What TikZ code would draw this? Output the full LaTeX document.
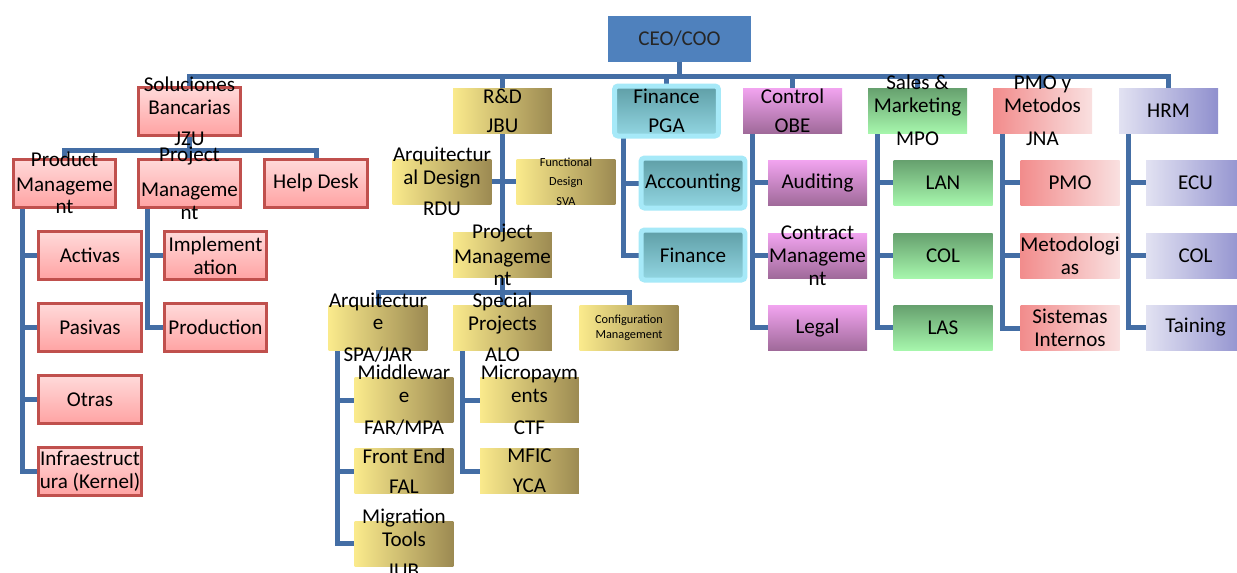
\documentclass[tikz,border=0pt]{standalone}
\usepackage{fontspec}
\setmainfont{Carlito}
\usepackage{tikz}
\usetikzlibrary{positioning,calc,backgrounds}

\definecolor{linkblue}{RGB}{68,110,165}
\definecolor{ceoblue}{HTML}{4F81BD}
\definecolor{redline}{HTML}{C0504D}
\definecolor{redtop}{HTML}{FFDADA}
\definecolor{redbot}{HTML}{FFA3A3}
\definecolor{goldl}{HTML}{FAEA8C}
\definecolor{goldm}{HTML}{E2CE7C}
\definecolor{goldr}{HTML}{9C8A52}
\definecolor{glow}{HTML}{A6E9F8}
\definecolor{cyantop}{HTML}{5F9EA6}
\definecolor{cyanbot}{HTML}{92D6E2}
\definecolor{pinktop}{HTML}{F2A4F0}
\definecolor{pinkbot}{HTML}{A06A9A}
\definecolor{greentop}{HTML}{66A06E}
\definecolor{greenbot}{HTML}{A6F6AC}
\definecolor{salml}{HTML}{F28C8C}
\definecolor{salmr}{HTML}{F9E0E0}
\definecolor{lavl}{HTML}{E2E2F2}
\definecolor{lavr}{HTML}{9090CE}

\tikzset{
    box/.style={minimum width=1.98cm, minimum height=0.9cm, inner sep=0pt, outer sep=0pt,
        font=\fontsize{12}{13}\selectfont, align=center},
    txt/.style={align=center, font=\fontsize{12}{13}\selectfont, text=black, inner sep=0pt},
    small/.style={align=center, font=\fontsize{7}{11}\selectfont, text=black, inner sep=0pt},
    ceobox/.style={box, fill=ceoblue, minimum width=2.86cm, minimum height=0.92cm, text=black!85},
    redbox/.style={box, draw=redline, line width=0.06cm, top color=redtop, bottom color=redbot,
        minimum width=2.06cm, minimum height=0.96cm},
    goldbox/.style={box, left color=goldl, middle color=goldm, right color=goldr},
    cyanbox/.style={box, draw=glow, line width=0.1cm, rounded corners=2pt,
        top color=cyantop, bottom color=cyanbot, minimum width=2.08cm, minimum height=1cm},
    pinkbox/.style={box, top color=pinktop, bottom color=pinkbot},
    greenbox/.style={box, top color=greentop, bottom color=greenbot},
    salmbox/.style={box, left color=salml, right color=salmr},
    lavbox/.style={box, left color=lavl, right color=lavr},
    link/.style={draw=linkblue, line width=0.1cm},
}

\begin{document}
\begin{tikzpicture}[x=0.02cm, y=-0.02cm]
    \useasboundingbox (0,0) rectangle (1237,572);

    % top level
    \node[ceobox] (ceo) at (679.5,39) {CEO/COO};
    \node[redbox, label={[txt]center:Soluciones\\Bancarias\\[4.5pt]JZU}] (sol) at (189.5,111) {};
    \node[goldbox, label={[txt]center:R\&D\\[3.4pt]JBU}] (rd) at (502.5,110.5) {};
    \node[cyanbox, label={[txt]center:Finance\\[3.4pt]PGA}] (fin) at (666.5,111) {};
    \node[pinkbox, label={[txt]center:Control\\[3.4pt]OBE}] (ctl) at (792.5,110.5) {};
    \node[greenbox, label={[txt]center:Sales \&\\Marketing\\[6pt]MPO}] (sal) at (917.5,110.5) {};
    \node[salmbox, label={[txt]center:PMO y\\Metodos\\[6pt]JNA}] (pmo) at (1042.5,110.5) {};
    \node[lavbox] (hrm) at (1168.5,110.5) {HRM};

    % Soluciones Bancarias
    \node[redbox, label={[txt]center:Product\\[1pt]Manageme\\nt}] (prod) at (64.5,183) {};
    \node[redbox, label={[txt]center:Project\\[7pt]Manageme\\nt}] (proj) at (189.5,183) {};
    \node[redbox] (help) at (316,183) {Help Desk};
    \node[redbox] (act) at (90,255.5) {Activas};
    \node[redbox] (pas) at (90,327.5) {Pasivas};
    \node[redbox] (otr) at (90,399.5) {Otras};
    \node[redbox] (inf) at (90,471.5) {Infraestruct\\ura (Kernel)};
    \node[redbox] (imp) at (215.5,255.5) {Implement\\ation};
    \node[redbox] (prd) at (215.5,327.5) {Production};

    % R&D
    \node[goldbox, label={[txt]center:Arquitectur\\al Design\\[4.5pt]RDU}] (arq) at (442,181.5) {};
    \node[goldbox, label={[small]center:Functional\\Design\\SVA}] (fun) at (566,181.5) {};
    \node[goldbox, label={[txt]center:Project\\[1pt]Manageme\\nt}] (rpm) at (502.5,255) {};
    \node[goldbox, label={[txt]center:Arquitectur\\e\\[5pt]SPA/JAR}] (arc) at (378,327.5) {};
    \node[goldbox, label={[txt]center:Special\\Projects\\[5pt]ALO}] (spe) at (502.5,327.5) {};
    \node[goldbox, label={[small, font=\fontsize{7}{8.5}\selectfont]center:Configuration\\Management}] (cfg) at (629,327.5) {};
    \node[goldbox, label={[txt]center:Middlewar\\e\\[5pt]FAR/MPA}] (mid) at (404,400) {};
    \node[goldbox, label={[txt]center:Front End\\[4pt]FAL}] (fro) at (404,471) {};
    \node[goldbox, label={[txt]center:Migration\\Tools\\[5pt]IUB}] (mig) at (404,543.5) {};
    \node[goldbox, label={[txt]center:Micropaym\\ents\\[5pt]CTF}] (mic) at (529.5,400) {};
    \node[goldbox, label={[txt]center:MFIC\\[4pt]YCA}] (mfi) at (529.5,471) {};

    % Finance, Control
    \node[cyanbox] (acc) at (693,183) {Accounting};
    \node[cyanbox] (fnc) at (693,255) {Finance};
    \node[pinkbox] (aud) at (817.5,182.5) {Auditing};
    \node[pinkbox, label={[txt]center:Contract\\Manageme\\nt}] (con) at (817.5,255.5) {};
    \node[pinkbox] (leg) at (817.5,327.5) {Legal};

    % Sales, PMO, HRM
    \node[greenbox] (lan) at (943,182.5) {LAN};
    \node[greenbox] (col) at (943,255.5) {COL};
    \node[greenbox] (las) at (943,327.5) {LAS};
    \node[salmbox] (pmc) at (1070,182.5) {PMO};
    \node[salmbox] (met) at (1070,255.5) {Metodologi\\as};
    \node[salmbox] (sis) at (1070,328) {Sistemas\\Internos};
    \node[lavbox] (ecu) at (1195.5,182.5) {ECU};
    \node[lavbox] (hcl) at (1195.5,255.5) {COL};
    \node[lavbox] (tai) at (1195.5,327.5) {Taining};

    \begin{scope}[on background layer]
        \fill[white] (0,0) rectangle (1237,572);
        \coordinate (top) at (679.5,76);
        \foreach \n in {sol,rd,fin,ctl,sal,pmo,hrm}
            \draw[link] (ceo.south) -- (top) -| (\n.north);

        \coordinate (solbus) at (189.5,150);
        \foreach \n in {prod,proj,help}
            \draw[link] (sol.south) -- (solbus) -| (\n.north);

        \draw[link] (rd.south) -- (rpm.north);
        \draw[link] (arq.east) -- (fun.west);
        \coordinate (rpmbus) at (502.5,292);
        \foreach \n in {arc,spe,cfg}
            \draw[link] (rpm.south) -- (rpmbus) -| (\n.north);

        % side columns
        \foreach \p/\c in {prod/act,prod/pas,prod/otr,prod/inf,proj/imp,proj/prd,
                arc/mid,arc/fro,arc/mig,spe/mic,spe/mfi,fin/acc,fin/fnc,
                ctl/aud,ctl/con,ctl/leg,sal/lan,sal/col,sal/las,
                pmo/pmc,pmo/met,pmo/sis,hrm/ecu,hrm/hcl,hrm/tai}
            \draw[link] ($(\p.south west)+(9,0)$) |- (\c.west);
    \end{scope}
\end{tikzpicture}
\end{document}
